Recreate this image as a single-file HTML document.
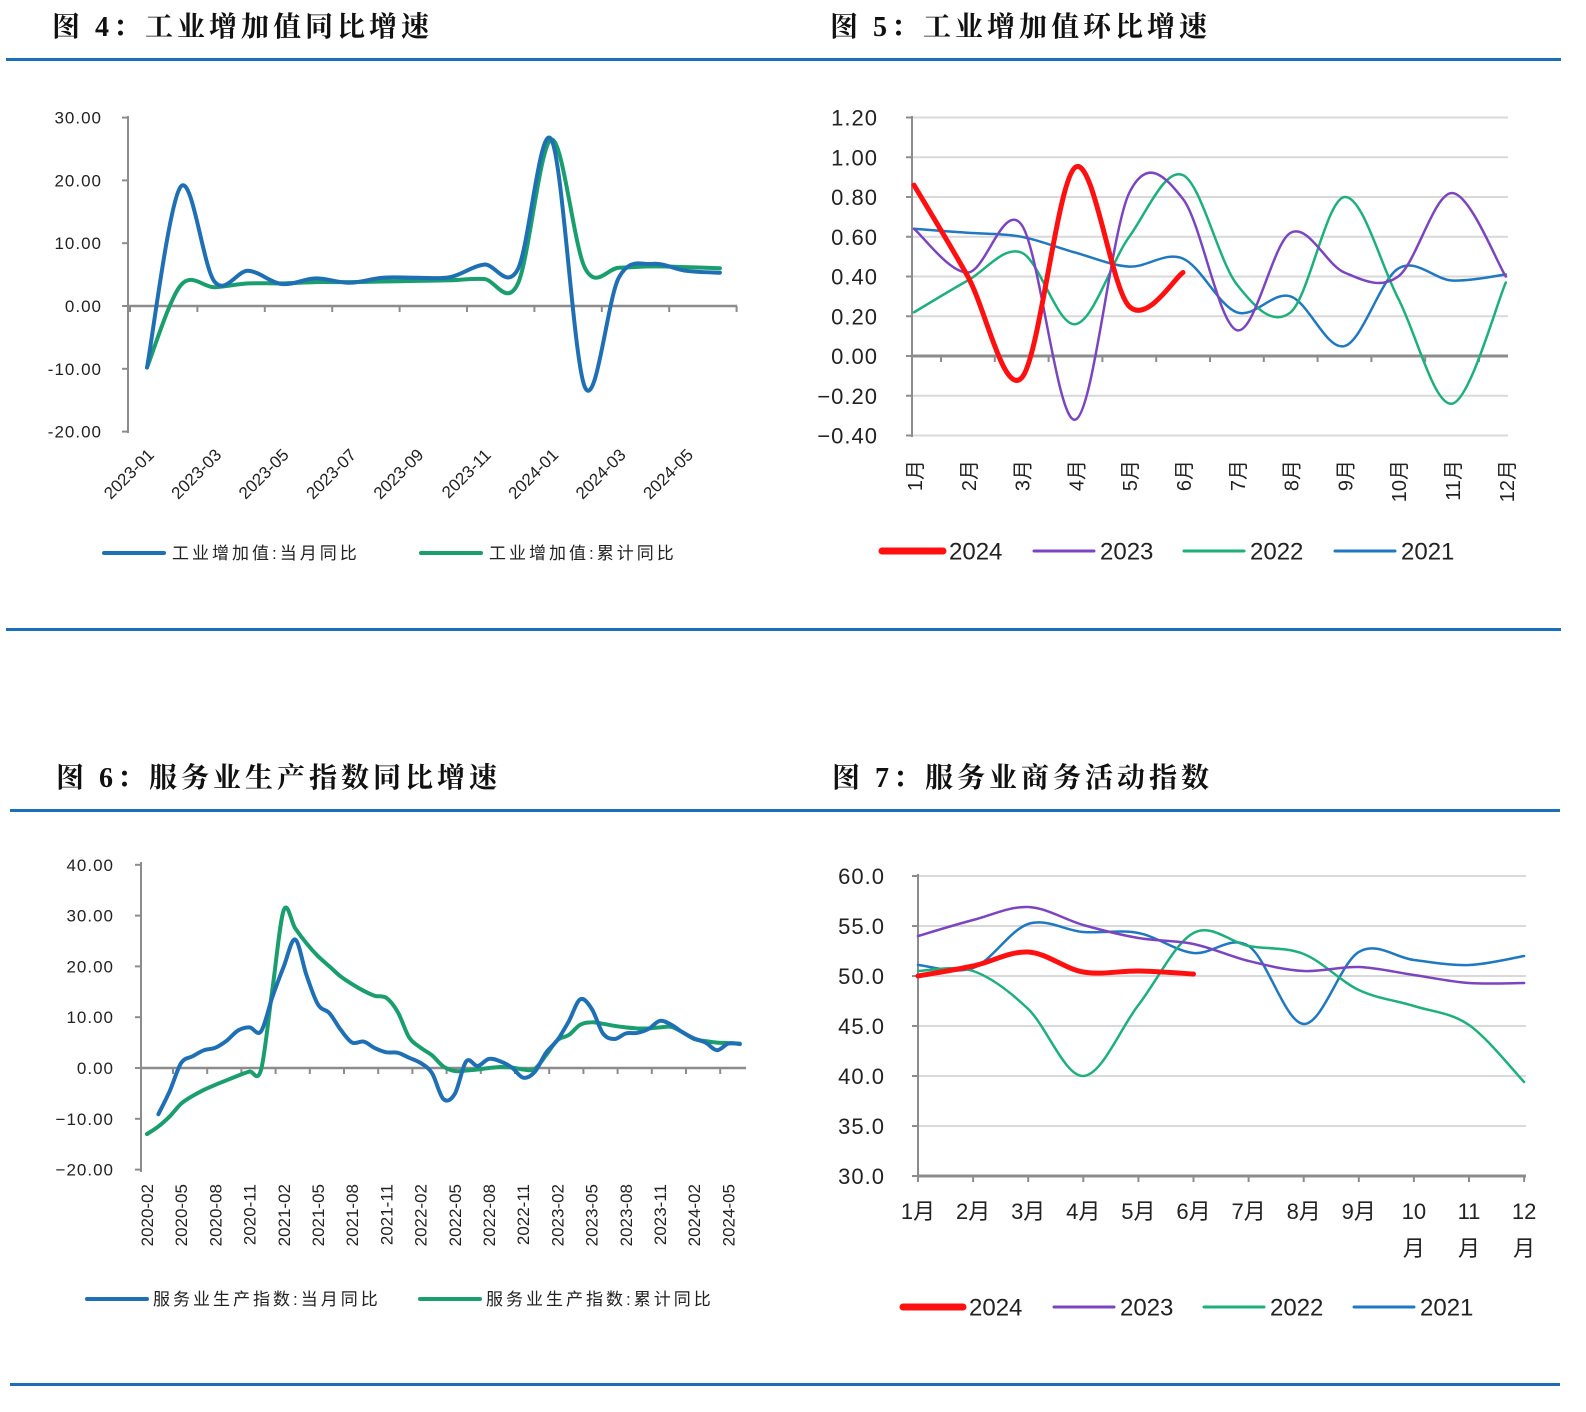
<!DOCTYPE html>
<html><head><meta charset="utf-8">
<style>
html,body{margin:0;padding:0;background:#fff;}
svg{display:block;}
text{font-family:"Liberation Sans","Noto Sans CJK SC",sans-serif;fill:#222;}
.ttl{font-family:"Liberation Serif","Noto Serif CJK SC",serif;font-weight:bold;font-size:28px;fill:#111;letter-spacing:4px;}
</style></head>
<body>
<svg id="page" width="1586" height="1412" viewBox="0 0 1586 1412" xmlns="http://www.w3.org/2000/svg">
<text class="ttl" x="52" y="36">图 4：工业增加值同比增速</text>
<text class="ttl" x="830" y="36">图 5：工业增加值环比增速</text>
<text class="ttl" x="56" y="787">图 6：服务业生产指数同比增速</text>
<text class="ttl" x="832" y="787">图 7：服务业商务活动指数</text>
<rect x="6" y="58" width="1555" height="3" fill="#1a6fb8"/>
<rect x="6" y="628" width="1555" height="3" fill="#1a6fb8"/>
<rect x="10" y="809" width="1550" height="3" fill="#1a6fb8"/>
<rect x="10" y="1383" width="1550" height="3" fill="#1a6fb8"/>
<g id="g4"></g>
<g id="g5"></g>
<g id="g6"></g>
<g id="g7"></g>
</svg>
<script>
// ---- Chart 4 data ----
const c4Months = ["2023-01","2023-02","2023-03","2023-04","2023-05","2023-06","2023-07","2023-08","2023-09","2023-10","2023-11","2023-12","2024-01","2024-02","2024-03","2024-04","2024-05","2024-06"];
const c4Monthly = [-9.8,19.0,3.9,5.6,3.5,4.4,3.7,4.5,4.5,4.6,6.6,5.8,26.5,-13.0,4.5,6.7,5.6,5.3];
const c4Cumul = [-9.8,3.3,3.0,3.6,3.6,3.8,3.8,3.9,4.0,4.1,4.3,3.5,26.5,6.0,6.1,6.3,6.2,6.0];
const c4Ticks = [30,20,10,0,-10,-20];
// ---- Chart 5 data ----
const c5Cats = ["1月","2月","3月","4月","5月","6月","7月","8月","9月","10月","11月","12月"];
const c5Y2024 = [0.86,0.40,-0.11,0.95,0.25,0.42];
const c5Y2023 = [0.64,0.42,0.66,-0.32,0.82,0.79,0.13,0.62,0.42,0.40,0.82,0.40];
const c5Y2022 = [0.22,0.38,0.52,0.16,0.60,0.91,0.36,0.22,0.80,0.29,-0.24,0.37];
const c5Y2021 = [0.64,0.62,0.60,0.52,0.45,0.49,0.22,0.30,0.05,0.44,0.38,0.41];
const c5Ticks = [1.2,1.0,0.8,0.6,0.4,0.2,0,-0.2,-0.4];
// ---- Chart 6 data ----
const c6Labels = ["2020-02","2020-05","2020-08","2020-11","2021-02","2021-05","2021-08","2021-11","2022-02","2022-05","2022-08","2022-11","2023-02","2023-05","2023-08","2023-11","2024-02","2024-05"];
const c6Monthly = [null,-9.1,-4.5,1.0,2.3,3.5,4.0,5.4,7.4,8.0,7.2,14.0,20.0,25.3,18.2,12.5,10.8,7.5,5.0,5.2,3.9,3.1,3.0,2.0,1.0,-1.0,-6.1,-5.1,1.3,0.4,1.8,1.3,0.1,-1.9,-0.8,3.0,5.5,9.2,13.5,11.7,6.8,5.7,6.8,6.9,7.7,9.3,8.5,7.0,5.8,5.0,3.5,4.8,4.7];
const c6Cumul = [-13.0,-11.5,-9.5,-7.0,-5.5,-4.3,-3.3,-2.4,-1.5,-0.7,-0.4,15.5,31.1,27.5,24.5,22.0,20.0,18.0,16.5,15.2,14.2,13.8,11.0,6.0,4.0,2.5,0.3,-0.6,-0.5,-0.3,0.0,0.2,0.1,-0.3,-0.2,2.5,5.5,6.5,8.5,9.0,8.7,8.3,8.0,7.8,7.8,8.0,8.1,7.0,5.7,5.3,5.0,4.9,4.8];
const c6Ticks = [40,30,20,10,0,-10,-20];
// ---- Chart 7 data ----
const c7Cats = ["1月","2月","3月","4月","5月","6月","7月","8月","9月","10月","11月","12月"];
const c7Y2024 = [50.0,51.0,52.4,50.4,50.5,50.2];
const c7Y2023 = [54.0,55.6,56.9,55.1,53.8,53.2,51.5,50.5,50.9,50.1,49.3,49.3];
const c7Y2022 = [50.5,50.5,46.7,40.0,47.1,54.3,53.0,52.2,48.6,47.0,45.1,39.4];
const c7Y2021 = [51.1,50.8,55.2,54.4,54.3,52.3,53.0,45.2,52.4,51.6,51.1,52.0];
const c7Ticks = [60,55,50,45,40,35,30];

const NS="http://www.w3.org/2000/svg";
function mk(parent,tag,attrs,txt){const e=document.createElementNS(NS,tag);for(const k in attrs)e.setAttribute(k,attrs[k]);if(txt!==undefined)e.textContent=txt;parent.appendChild(e);return e;}
function smooth(pts){
  if(pts.length<2)return "";
  let d="M"+pts[0][0].toFixed(1)+","+pts[0][1].toFixed(1);
  for(let i=0;i<pts.length-1;i++){
    const p0=pts[i-1]||pts[i],p1=pts[i],p2=pts[i+1],p3=pts[i+2]||p2;
    const c1=[p1[0]+(p2[0]-p0[0])/6,p1[1]+(p2[1]-p0[1])/6];
    const c2=[p2[0]-(p3[0]-p1[0])/6,p2[1]-(p3[1]-p1[1])/6];
    d+="C"+c1[0].toFixed(1)+","+c1[1].toFixed(1)+" "+c2[0].toFixed(1)+","+c2[1].toFixed(1)+" "+p2[0].toFixed(1)+","+p2[1].toFixed(1);
  }
  return d;
}
function series(g,vals,xf,yf,color,w,name){
  let pts=[];
  vals.forEach((v,i)=>{if(v!==null)pts.push([xf(i),yf(v)]);});
  const p=mk(g,"path",{d:smooth(pts),fill:"none",stroke:color,"stroke-width":w,"stroke-linejoin":"round","stroke-linecap":"round"});
  
  
}
function legend(g,x1,x2,y,color,w,label,tx,fs,name,ls){
  const l=mk(g,"line",{x1:x1,x2:x2,y1:y,y2:y,stroke:color,"stroke-width":w,"stroke-linecap":"round"});
  
  
  const t=mk(g,"text",{x:tx,y:y+fs*0.36,"font-size":fs,"letter-spacing":ls||0},label);
  
  
}
const AX="#8c8c8c";

// ===== Chart 4 =====
(function(){
  const g=document.getElementById("g4");
  const y=v=>306-v*6.28, x=i=>147+i*33.7;
  mk(g,"line",{x1:128,y1:116,x2:128,y2:433,stroke:AX,"stroke-width":2});
  c4Ticks.forEach(t=>{
    mk(g,"line",{x1:122,x2:128,y1:y(t),y2:y(t),stroke:AX,"stroke-width":2});
    const tx=mk(g,"text",{x:102,y:y(t)+6,"font-size":17,"text-anchor":"end","letter-spacing":1},t.toFixed(2));
    
    
  });
  mk(g,"line",{x1:128,x2:737,y1:y(0),y2:y(0),stroke:AX,"stroke-width":2.5});
  for(let k=0;k<=9;k++){const xx=130+k*67.4;mk(g,"line",{x1:xx,x2:xx,y1:y(0),y2:y(0)+6,stroke:AX,"stroke-width":2});}
  c4Months.forEach((m,i)=>{if(i%2)return;
    const tx=mk(g,"text",{x:0,y:0,"font-size":17,"text-anchor":"end",transform:"translate("+(x(i)+8)+",456) rotate(-45)"},m);
    
    
  });
  series(g,c4Cumul,x,y,"#1a9e6e",4,"chart4-cumulative-line");
  series(g,c4Monthly,x,y,"#1f6fb5",4,"chart4-monthly-line");
  legend(g,104,164,553,"#1f6fb5",4,"工业增加值:当月同比",172,17,"chart4-legend-monthly",3);
  legend(g,421,481,553,"#1a9e6e",4,"工业增加值:累计同比",489,17,"chart4-legend-cumulative",3);
})();

// ===== Chart 5 =====
(function(){
  const g=document.getElementById("g5");
  const y=v=>356-v*198.75, x=i=>914+i*53.8;
  c5Ticks.forEach(t=>{
    if(t!==0) mk(g,"line",{x1:912,x2:1508,y1:y(t),y2:y(t),stroke:"#d9d9d9","stroke-width":2});
    const tx=mk(g,"text",{x:878,y:y(t)+8,"font-size":22,"text-anchor":"end","letter-spacing":1},(t<0?"−":"")+Math.abs(t).toFixed(2));
    
    
    mk(g,"line",{x1:906,x2:912,y1:y(t),y2:y(t),stroke:AX,"stroke-width":2});
  });
  mk(g,"line",{x1:912,y1:116,x2:912,y2:437,stroke:AX,"stroke-width":2});
  mk(g,"line",{x1:912,x2:1508,y1:y(0),y2:y(0),stroke:AX,"stroke-width":3});
  c5Cats.forEach((c,i)=>{
    if(i<11) mk(g,"line",{x1:x(i)+27,x2:x(i)+27,y1:y(0),y2:y(0)+6,stroke:AX,"stroke-width":2});
    const tx=mk(g,"text",{x:0,y:0,"font-size":20,"text-anchor":"end",transform:"translate("+(x(i)+8)+",460) rotate(-90)"},c);
    
    
  });
  series(g,c5Y2021,x,y,"#1f78c1",2.5,"chart5-line-2021");
  series(g,c5Y2022,x,y,"#1db07a",2.5,"chart5-line-2022");
  series(g,c5Y2023,x,y,"#7b45c0",2.5,"chart5-line-2023");
  series(g,c5Y2024,x,y,"#ff1010",5,"chart5-line-2024");
  legend(g,882,943,551,"#ff1010",7,"2024",949,24,"chart5-legend-2024");
  legend(g,1034,1094,551,"#7b45c0",3,"2023",1100,24,"chart5-legend-2023");
  legend(g,1184,1244,551,"#1db07a",3,"2022",1250,24,"chart5-legend-2022");
  legend(g,1335,1395,551,"#1f78c1",3,"2021",1401,24,"chart5-legend-2021");
})();

// ===== Chart 6 =====
(function(){
  const g=document.getElementById("g6");
  const y=v=>1068-v*5.08, x=i=>147+i*11.4;
  mk(g,"line",{x1:141,y1:862,x2:141,y2:1172,stroke:AX,"stroke-width":2});
  c6Ticks.forEach(t=>{
    mk(g,"line",{x1:135,x2:141,y1:y(t),y2:y(t),stroke:AX,"stroke-width":2});
    const tx=mk(g,"text",{x:114,y:y(t)+6,"font-size":17,"text-anchor":"end","letter-spacing":1},(t<0?"−":"")+Math.abs(t).toFixed(2));
    
    
  });
  mk(g,"line",{x1:141,x2:746,y1:y(0),y2:y(0),stroke:AX,"stroke-width":2.5});
  for(let k=0;k<=17;k++){const xx=x(k*3)+26;if(xx<746)mk(g,"line",{x1:xx,x2:xx,y1:y(0),y2:y(0)+6,stroke:AX,"stroke-width":2});}
  c6Labels.forEach((m,i)=>{
    const tx=mk(g,"text",{x:0,y:0,"font-size":17,"text-anchor":"end",transform:"translate("+(x(i*3)+6)+",1184) rotate(-90)"},m);
    
    
  });
  series(g,c6Cumul,x,y,"#1a9e6e",4,"chart6-cumulative-line");
  series(g,c6Monthly,x,y,"#1f6fb5",4,"chart6-monthly-line");
  legend(g,87,147,1299,"#1f6fb5",4,"服务业生产指数:当月同比",153,17,"chart6-legend-monthly",3);
  legend(g,420,480,1299,"#1a9e6e",4,"服务业生产指数:累计同比",486,17,"chart6-legend-cumulative",3);
})();

// ===== Chart 7 =====
(function(){
  const g=document.getElementById("g7");
  const y=v=>1176-(v-30)*10, x=i=>918+i*55.1;
  c7Ticks.forEach(t=>{
    if(t!==30) mk(g,"line",{x1:918,x2:1526,y1:y(t),y2:y(t),stroke:"#d9d9d9","stroke-width":2});
    mk(g,"line",{x1:912,x2:918,y1:y(t),y2:y(t),stroke:AX,"stroke-width":2});
    const tx=mk(g,"text",{x:885,y:y(t)+8,"font-size":22,"text-anchor":"end","letter-spacing":1},t.toFixed(1));
    
    
  });
  mk(g,"line",{x1:918,y1:874,x2:918,y2:1177,stroke:AX,"stroke-width":2});
  mk(g,"line",{x1:918,x2:1526,y1:y(30),y2:y(30),stroke:AX,"stroke-width":3});
  c7Cats.forEach((c,i)=>{
    mk(g,"line",{x1:x(i),x2:x(i),y1:y(30),y2:y(30)+6,stroke:AX,"stroke-width":2});
    let tx;
    if(i<9){tx=mk(g,"text",{x:x(i),y:1219,"font-size":22,"text-anchor":"middle"},c);}
    else{tx=mk(g,"text",{x:x(i),y:1219,"font-size":22,"text-anchor":"middle"},c.replace("月",""));
      const t2=mk(g,"text",{x:x(i),y:1256,"font-size":22,"text-anchor":"middle"},"月");
      
      }
    
    
  });
  series(g,c7Y2021,x,y,"#1f78c1",2.5,"chart7-line-2021");
  series(g,c7Y2022,x,y,"#1db07a",2.5,"chart7-line-2022");
  series(g,c7Y2023,x,y,"#7b45c0",2.5,"chart7-line-2023");
  series(g,c7Y2024,x,y,"#ff1010",5,"chart7-line-2024");
  legend(g,903,963,1307,"#ff1010",7,"2024",969,24,"chart7-legend-2024");
  legend(g,1054,1114,1307,"#7b45c0",3,"2023",1120,24,"chart7-legend-2023");
  legend(g,1204,1264,1307,"#1db07a",3,"2022",1270,24,"chart7-legend-2022");
  legend(g,1354,1414,1307,"#1f78c1",3,"2021",1420,24,"chart7-legend-2021");
})();
</script>
</body></html>
